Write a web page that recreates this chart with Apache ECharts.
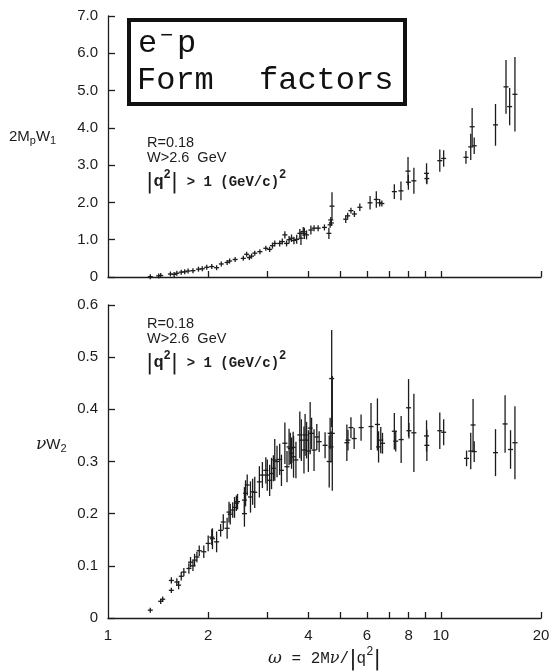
<!DOCTYPE html>
<html>
<head>
<meta charset="utf-8">
<script src="https://cdn.jsdelivr.net/npm/echarts@6/dist/echarts.min.js"></script>
<style>
  html, body { margin: 0; padding: 0; background: #fff; }
  #chart { width: 555px; height: 671px; }
</style>
</head>
<body>
<div id="chart"></div>
<script>
// ---- 2MpW1 vs omega (upper panel): omega, value, half-length of error bar ----
const omegaW1 = [1.34, 1.42, 1.44, 1.54, 1.58, 1.61, 1.66, 1.70, 1.74, 1.80, 1.87, 1.92, 1.98, 2.05, 2.12, 2.19,
  2.28, 2.32, 2.41, 2.55, 2.61, 2.66, 2.70, 2.76, 2.86, 2.98, 3.06, 3.12, 3.17, 3.28, 3.34, 3.40, 3.44, 3.50,
  3.56, 3.62, 3.69, 3.77, 3.80, 3.86, 3.89, 3.95, 4.07, 4.16, 4.28, 4.47, 4.61, 4.65, 4.67, 4.69, 4.71,
  5.18, 5.25, 5.37, 5.50, 5.71, 6.13, 6.40, 6.55, 6.65, 7.25, 7.59, 7.97, 7.99, 8.30, 9.06, 9.08,
  9.93, 10.2, 11.9, 12.3, 12.42, 12.6, 14.6, 15.7, 16.1, 16.7];
const valW1 = [0.01, 0.03, 0.04, 0.08, 0.07, 0.10, 0.13, 0.14, 0.16, 0.17, 0.21, 0.22, 0.26, 0.28, 0.25, 0.35,
  0.39, 0.43, 0.47, 0.50, 0.61, 0.52, 0.56, 0.64, 0.68, 0.77, 0.74, 0.84, 0.90, 0.90, 0.95, 1.13, 0.90, 1.00,
  1.04, 0.98, 1.01, 1.17, 1.04, 1.22, 1.17, 1.13, 1.26, 1.31, 1.31, 1.33, 1.17, 1.40, 1.53, 1.45, 1.90,
  1.55, 1.64, 1.78, 1.69, 1.87, 1.99, 2.08, 1.99, 1.97, 2.29, 2.31, 2.84, 2.54, 2.58, 2.78, 2.64,
  3.12, 3.18, 3.21, 3.49, 4.03, 3.52, 4.08, 5.10, 4.57, 4.90];
const errW1 = [0.02, 0.02, 0.02, 0.02, 0.02, 0.02, 0.02, 0.02, 0.03, 0.03, 0.03, 0.03, 0.03, 0.03, 0.03, 0.03,
  0.04, 0.04, 0.04, 0.04, 0.05, 0.05, 0.05, 0.05, 0.06, 0.06, 0.07, 0.08, 0.08, 0.08, 0.08, 0.10, 0.08, 0.10,
  0.10, 0.10, 0.12, 0.12, 0.18, 0.12, 0.15, 0.12, 0.12, 0.08, 0.08, 0.08, 0.15, 0.08, 0.08, 0.08, 0.37,
  0.10, 0.08, 0.08, 0.08, 0.10, 0.18, 0.22, 0.10, 0.08, 0.20, 0.25, 0.38, 0.20, 0.35, 0.27, 0.15,
  0.30, 0.22, 0.17, 0.35, 0.50, 0.22, 0.56, 0.72, 0.50, 1.00];

// ---- nuW2 vs omega (lower panel) ----
const omegaW2 = [1.34, 1.44, 1.46, 1.55, 1.55, 1.61, 1.63, 1.66, 1.69, 1.75, 1.77, 1.80, 1.82, 1.85, 1.88, 1.94,
  2.00, 2.05, 2.06, 2.12, 2.18, 2.22, 2.28, 2.31, 2.33, 2.37, 2.40, 2.43, 2.45, 2.57, 2.57, 2.59, 2.62,
  2.68, 2.72, 2.76, 2.85, 2.91, 2.98, 3.01, 3.06, 3.10, 3.14, 3.17, 3.22, 3.28, 3.32, 3.40, 3.45, 3.50,
  3.53, 3.56, 3.60, 3.61, 3.67, 3.77, 3.81, 3.88, 3.91, 3.95, 4.00, 4.05, 4.09, 4.16, 4.24, 4.31, 4.49,
  4.62, 4.65, 4.68, 4.70, 4.72, 5.22, 5.26, 5.37, 5.49, 5.76, 6.17, 6.45, 6.50, 6.60, 6.68, 7.25, 7.32,
  7.60, 8.00, 8.02, 8.30, 9.06, 9.08, 9.93, 10.2, 11.95, 12.3, 12.5, 12.6, 14.6, 15.6, 16.2, 16.7];
const valW2 = [0.015, 0.032, 0.036, 0.053, 0.072, 0.069, 0.063, 0.080, 0.088, 0.095, 0.107, 0.100, 0.111, 0.117, 0.129, 0.127,
  0.143, 0.155, 0.152, 0.146, 0.168, 0.184, 0.172, 0.203, 0.199, 0.207, 0.212, 0.220, 0.223, 0.200, 0.226, 0.239, 0.255,
  0.232, 0.242, 0.241, 0.261, 0.274, 0.283, 0.274, 0.264, 0.277, 0.287, 0.303, 0.300, 0.304, 0.283, 0.335, 0.290, 0.328,
  0.325, 0.316, 0.327, 0.309, 0.303, 0.351, 0.341, 0.322, 0.351, 0.341, 0.320, 0.364, 0.354, 0.322, 0.347, 0.338, 0.331,
  0.300, 0.354, 0.328, 0.459, 0.354, 0.336, 0.341, 0.365, 0.344, 0.365, 0.367, 0.371, 0.328, 0.341, 0.335, 0.358, 0.339,
  0.342, 0.403, 0.359, 0.355, 0.349, 0.331, 0.359, 0.356, 0.306, 0.320, 0.370, 0.319, 0.317, 0.372, 0.323, 0.336];
const errW2 = [0.003, 0.005, 0.005, 0.005, 0.006, 0.007, 0.008, 0.008, 0.008, 0.010, 0.010, 0.010, 0.012, 0.010, 0.010, 0.012,
  0.015, 0.015, 0.020, 0.020, 0.012, 0.015, 0.020, 0.020, 0.020, 0.015, 0.020, 0.015, 0.015, 0.025, 0.025, 0.025, 0.020,
  0.030, 0.025, 0.030, 0.030, 0.025, 0.025, 0.030, 0.030, 0.030, 0.025, 0.040, 0.030, 0.030, 0.030, 0.040, 0.030, 0.035,
  0.030, 0.030, 0.030, 0.040, 0.035, 0.045, 0.040, 0.045, 0.040, 0.035, 0.040, 0.050, 0.030, 0.040, 0.025, 0.020, 0.025,
  0.050, 0.030, 0.030, 0.093, 0.110, 0.035, 0.020, 0.020, 0.020, 0.025, 0.045, 0.050, 0.030, 0.025, 0.020, 0.035, 0.020,
  0.045, 0.055, 0.015, 0.075, 0.030, 0.030, 0.035, 0.025, 0.015, 0.035, 0.050, 0.020, 0.045, 0.055, 0.037, 0.070];

// ---- axis ticks and labels ----
const omegaTicks = [2, 3, 4, 5, 6, 7, 8, 9, 10, 20];
const omegaLabels = [1, 2, 4, 6, 8, 10, 20];

const INK = '#1c1c1c';
const LABEL_FONT = 'Liberation Sans';
const TITLE_FONT = '32px "Liberation Mono"';

// draws one measurement: vertical error bar plus short horizontal bar at the value
function renderMeasurement(params, api) {
  const x = api.value(0), y = api.value(1), e = api.value(2);
  const c = api.coord([x, y]);
  const top = api.coord([x, y + e]);
  const bot = api.coord([x, y - e]);
  let y0 = top[1], y1 = bot[1];
  if (y1 - y0 < 5) { y0 = c[1] - 2.5; y1 = c[1] + 2.5; }
  const style = { stroke: INK, lineWidth: 1.3 };
  return {
    type: 'group',
    children: [
      { type: 'line', shape: { x1: c[0], y1: y0, x2: c[0], y2: y1 }, style },
      { type: 'line', shape: { x1: c[0] - 2.5, y1: c[1], x2: c[0] + 2.5, y2: c[1] }, style }
    ]
  };
}

const w1Data = omegaW1.map((w, i) => [w, valW1[i], errW1[i]]);
const w2Data = omegaW2.map((w, i) => [w, valW2[i], errW2[i]]);

function xAxis(gridIndex, showLabels) {
  return {
    type: 'log', logBase: 10, min: 1, max: 20, gridIndex,
    axisLine: { show: true, onZero: false, lineStyle: { color: INK, width: 1.3 } },
    axisTick: { show: true, inside: true, length: 6, customValues: omegaTicks, lineStyle: { color: INK, width: 1.3 } },
    axisLabel: {
      show: showLabels, customValues: omegaLabels, margin: 10,
      color: INK, fontFamily: LABEL_FONT, fontSize: 15,
      formatter: v => String(Math.round(v))
    },
    splitLine: { show: false }, minorTick: { show: false }
  };
}

function yAxis(gridIndex, max, interval) {
  return {
    type: 'value', min: 0, max, interval, gridIndex,
    axisLine: { show: true, lineStyle: { color: INK, width: 1.3 } },
    axisTick: { show: true, inside: true, length: 7, lineStyle: { color: INK, width: 1.3 } },
    axisLabel: {
      color: INK, fontFamily: LABEL_FONT, fontSize: 15, margin: 10,
      formatter: v => (v === 0 ? '0' : v.toFixed(1))
    },
    splitLine: { show: false }
  };
}

function conditionsBlock(top) {
  return [
    { type: 'text', left: 147, top: top, style: { text: 'R=0.18', font: '14.5px "Liberation Sans"', fill: INK } },
    { type: 'text', left: 147, top: top + 15, style: { text: 'W>2.6  GeV', font: '14.5px "Liberation Sans"', fill: INK } },
    { type: 'text', left: 146, top: top + 34, style: {
        text: '{b||}{q|q}{s|2}{b||}{t| > 1 (GeV/c)}{s|2}',
        rich: {
          b: { font: '22px "DejaVu Sans"', fill: INK },
          q: { font: 'bold 17px "Liberation Mono"', fill: INK },
          s: { font: 'bold 12px "Liberation Mono"', fill: INK, padding: [0, 0, 14, 0] },
          t: { font: 'bold 14px "Liberation Mono"', fill: INK }
        } } }
  ];
}

const chart = echarts.init(document.getElementById('chart'), null, { renderer: 'canvas' });

chart.setOption({
  backgroundColor: '#fff',
  animation: false,
  grid: [
    { left: 108, top: 16, width: 433, height: 261 },
    { left: 108, top: 305, width: 433, height: 313 }
  ],
  xAxis: [xAxis(0, false), xAxis(1, true)],
  yAxis: [yAxis(0, 7, 1), yAxis(1, 0.6, 0.1)],
  series: [
    { type: 'custom', xAxisIndex: 0, yAxisIndex: 0, data: w1Data, renderItem: renderMeasurement, encode: { x: 0, y: 1 }, clip: false },
    { type: 'custom', xAxisIndex: 1, yAxisIndex: 1, data: w2Data, renderItem: renderMeasurement, encode: { x: 0, y: 1 }, clip: false }
  ],
  graphic: [
    // title box
    { type: 'rect', shape: { x: 129, y: 20, width: 276, height: 84 }, style: { fill: '#fff', stroke: '#111', lineWidth: 4 } },
    { type: 'text', left: 138, top: 28, style: { text: 'e', font: TITLE_FONT, fill: '#111' } },
    { type: 'text', left: 160, top: 25, style: { text: '−', font: '22px "Liberation Mono"', fill: '#111' } },
    { type: 'text', left: 177, top: 28, style: { text: 'p', font: TITLE_FONT, fill: '#111' } },
    { type: 'text', left: 137, top: 65, style: { text: 'Form', font: TITLE_FONT, fill: '#111' } },
    { type: 'text', left: 259, top: 65, style: { text: 'factors', font: TITLE_FONT, fill: '#111' } },

    // run conditions in each panel
    ...conditionsBlock(135),
    ...conditionsBlock(316),

    // axis names
    { type: 'text', left: 9, top: 129, style: {
        text: '2M{s|p}W{s|1}',
        rich: { s: { font: '11px "Liberation Sans"', fill: INK, padding: [8, 0, 0, 0] } },
        font: '15px "Liberation Sans"', fill: INK } },
    { type: 'text', left: 36, top: 436, style: {
        text: '{v|ν}W{s|2}',
        rich: {
          v: { font: 'italic 17px "DejaVu Serif"', fill: INK },
          s: { font: '11px "Liberation Sans"', fill: INK, padding: [8, 0, 0, 0] }
        },
        font: '15px "Liberation Sans"', fill: INK } },
    { type: 'text', left: 268, top: 646, style: {
        text: '{w|ω} = 2M{v|ν}/{b||}q{s|2}{b||}',
        rich: {
          w: { font: 'italic 17px "DejaVu Serif"', fill: INK },
          v: { font: 'italic 16px "DejaVu Serif"', fill: INK },
          b: { font: '22px "DejaVu Sans"', fill: INK },
          s: { font: '12px "Liberation Mono"', fill: INK, padding: [0, 0, 14, 0] }
        },
        font: '16px "Liberation Mono"', fill: INK } }
  ]
});
</script>
</body>
</html>
